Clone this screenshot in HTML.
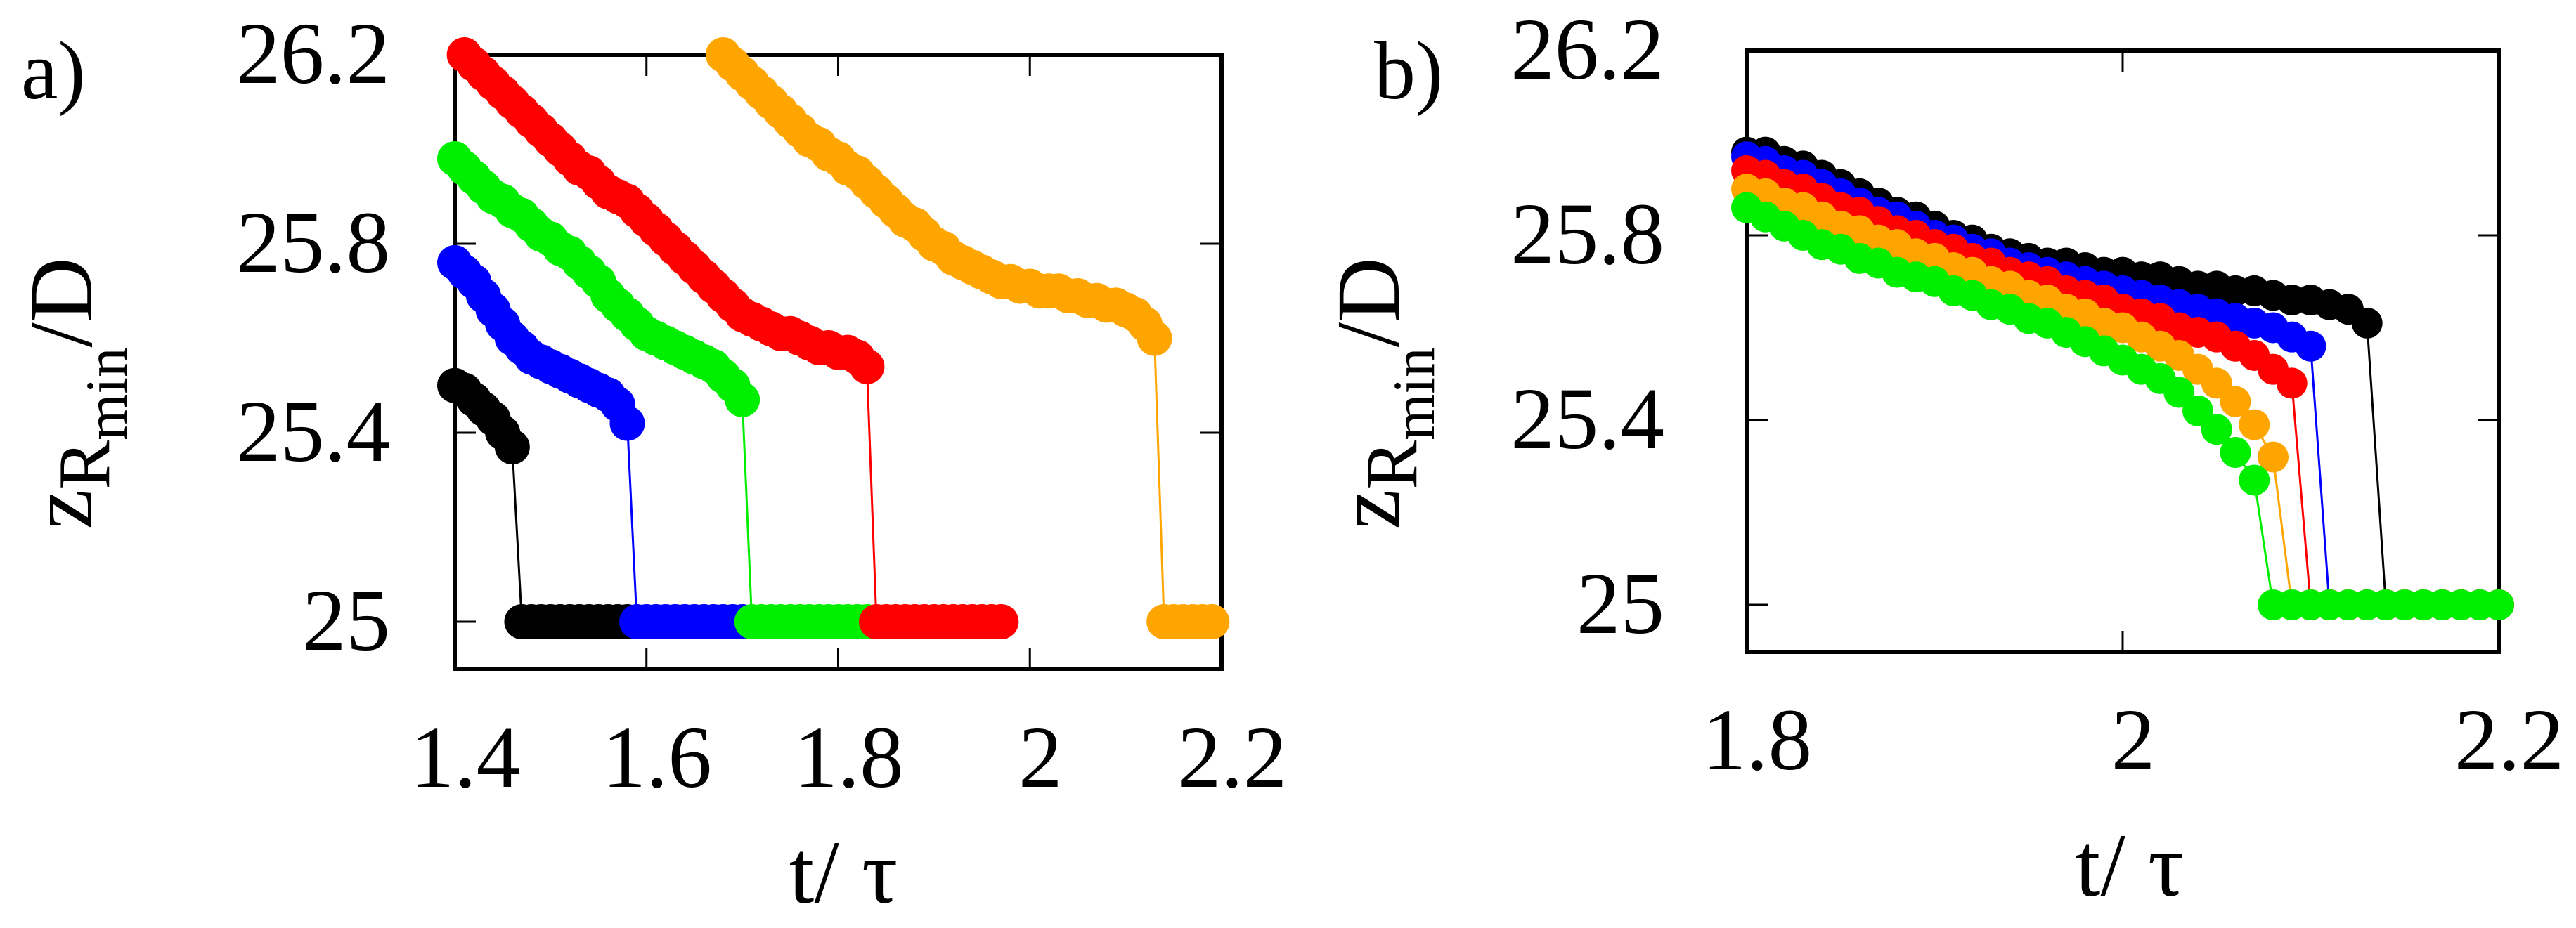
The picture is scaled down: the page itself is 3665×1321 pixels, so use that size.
<!DOCTYPE html>
<html><head><meta charset="utf-8"><style>
html,body{margin:0;padding:0;background:#fff;}
svg{display:block;}
svg text{font-family:"Liberation Serif","Times New Roman","DejaVu Serif",serif;}
</style></head><body>
<svg id="fig" width="3665" height="1321" viewBox="0 0 3665 1321" xmlns="http://www.w3.org/2000/svg">
<g id="pa"></g>
<g id="pb"></g>
</svg>
<script>
// ---- Panel a data ----
const aXTicks = [1.4, 1.6, 1.8, 2, 2.2];
const aXTickLabels = ["1.4", "1.6", "1.8", "2", "2.2"];
const aYTicks = [25, 25.4, 25.8, 26.2];
const aYTickLabels = ["25", "25.4", "25.8", "26.2"];
const aNames = ["black", "blue", "green", "red", "orange"];
const aColors = ["#000000", "#0000ff", "#00ee00", "#ff0000", "#ffa500"];
const aStart = [1.40, 1.40, 1.40, 1.41, 1.68];
const aBlack = [25.50,25.49,25.47,25.45,25.43,25.40,25.37,25,25,25,25,25,25,25,25,25,25,25,25];
const aBlue = [25.76,25.74,25.72,25.69,25.66,25.63,25.60,25.58,25.56,25.55,25.54,25.53,25.52,25.51,25.50,25.49,25.48,25.46,25.42,25,25,25,25,25,25,25,25,25,25,25,25];
const aGreen = [25.98,25.96,25.94,25.92,25.90,25.89,25.87,25.86,25.84,25.82,25.81,25.79,25.78,25.76,25.74,25.72,25.69,25.67,25.65,25.63,25.61,25.60,25.59,25.58,25.57,25.56,25.55,25.54,25.52,25.50,25.47,25,25,25,25,25,25,25,25,25,25,25,25,25];
const aRed = [26.20,26.18,26.16,26.14,26.12,26.10,26.08,26.06,26.04,26.02,26.00,25.98,25.96,25.95,25.93,25.91,25.90,25.89,25.87,25.85,25.83,25.81,25.79,25.77,25.75,25.73,25.71,25.69,25.67,25.65,25.64,25.63,25.62,25.61,25.61,25.60,25.59,25.58,25.58,25.57,25.57,25.56,25.54,25,25,25,25,25,25,25,25,25,25,25,25,25,25];
const aOrange = [26.20,26.18,26.16,26.14,26.12,26.10,26.08,26.06,26.04,26.02,26.01,25.99,25.98,25.96,25.95,25.93,25.91,25.89,25.87,25.85,25.84,25.82,25.80,25.79,25.77,25.76,25.75,25.74,25.73,25.72,25.72,25.71,25.71,25.70,25.70,25.70,25.69,25.69,25.68,25.68,25.67,25.67,25.66,25.65,25.63,25.60,25,25,25,25,25,25];
// ---- Panel b data ----
const bXTicks = [1.8, 2, 2.2];
const bXTickLabels = ["1.8", "2", "2.2"];
const bYTicks = [25, 25.4, 25.8, 26.2];
const bYTickLabels = ["25", "25.4", "25.8", "26.2"];
const bNames = ["black", "blue", "red", "orange", "green"];
const bColors = ["#000000", "#0000ff", "#ff0000", "#ffa500", "#00ee00"];
const bStart = [1.80, 1.80, 1.80, 1.80, 1.80];
const bBlack = [25.98,25.98,25.96,25.95,25.93,25.91,25.89,25.87,25.85,25.84,25.82,25.80,25.79,25.77,25.76,25.75,25.74,25.74,25.73,25.72,25.72,25.71,25.71,25.70,25.69,25.69,25.68,25.68,25.67,25.66,25.66,25.65,25.64,25.61,25,25,25,25,25,25,25];
const bBlue = [25.97,25.96,25.94,25.93,25.91,25.89,25.87,25.85,25.84,25.82,25.80,25.79,25.77,25.76,25.74,25.73,25.72,25.71,25.70,25.69,25.68,25.67,25.66,25.65,25.64,25.63,25.62,25.61,25.60,25.58,25.56,25,25,25,25,25,25,25,25,25,25];
const bRed = [25.94,25.93,25.91,25.90,25.88,25.86,25.85,25.83,25.81,25.80,25.78,25.77,25.75,25.74,25.72,25.71,25.70,25.68,25.67,25.66,25.64,25.63,25.62,25.60,25.59,25.58,25.56,25.54,25.51,25.48,25,25,25,25,25,25,25,25,25,25,25];
const bOrange = [25.90,25.89,25.87,25.86,25.84,25.82,25.81,25.79,25.78,25.76,25.75,25.73,25.72,25.70,25.69,25.67,25.66,25.64,25.63,25.61,25.60,25.58,25.56,25.54,25.51,25.48,25.44,25.39,25.32,25,25,25,25,25,25,25,25,25,25,25,25];
const bGreen = [25.86,25.84,25.82,25.80,25.78,25.77,25.75,25.74,25.72,25.71,25.70,25.68,25.67,25.65,25.64,25.62,25.61,25.59,25.57,25.55,25.53,25.51,25.49,25.46,25.42,25.38,25.33,25.27,25,25,25,25,25,25,25,25,25,25,25,25,25];
const STEP = 0.01;

const NS = "http://www.w3.org/2000/svg";
const FONT = "Liberation Serif, Times New Roman, DejaVu Serif, serif";
function mk(tag, attrs, parent) {
  const e = document.createElementNS(NS, tag);
  for (const k in attrs) e.setAttribute(k, attrs[k]);
  if (tag === "text") { e.setAttribute("font-family", FONT); e.style.fontFamily = '"Liberation Serif", "DejaVu Serif", serif'; }
  parent.appendChild(e);
  return e;
}

function drawPanel(g, cfg) {
  const xs = v => cfg.x0 + (v - cfg.xmin) / (cfg.xmax - cfg.xmin) * (cfg.x1 - cfg.x0);
  const ys = v => cfg.yRef0 + (v - 25) / 1.2 * (cfg.yRef1 - cfg.yRef0);
  const box = mk("rect", {x: cfg.x0, y: cfg.top, width: cfg.x1 - cfg.x0, height: cfg.bottom - cfg.top, fill: "none", stroke: "#000", "stroke-width": 6}, g);
  
  
  cfg.xTicks.forEach((v, i) => {
    const x = xs(v);
    const t1 = mk("line", {x1: x, x2: x, y1: cfg.bottom, y2: cfg.bottom - 30, stroke: "#000", "stroke-width": 3}, g);
    
    
    const t2 = mk("line", {x1: x, x2: x, y1: cfg.top, y2: cfg.top + 30, stroke: "#000", "stroke-width": 3}, g);
    
    
    const lb = mk("text", {x: x + 15, y: cfg.xLabelY, "font-size": 125, "text-anchor": "middle"}, g);
    lb.textContent = cfg.xTickLabels[i];
    
    
  });
  cfg.yTicks.forEach((v, i) => {
    const y = ys(v);
    const t1 = mk("line", {x1: cfg.x0, x2: cfg.x0 + 30, y1: y, y2: y, stroke: "#000", "stroke-width": 3}, g);
    
    
    const t2 = mk("line", {x1: cfg.x1, x2: cfg.x1 - 30, y1: y, y2: y, stroke: "#000", "stroke-width": 3}, g);
    
    
    const lb = mk("text", {x: cfg.yLabelX, y: y + 40, "font-size": 125, "text-anchor": "end"}, g);
    lb.textContent = cfg.yTickLabels[i];
    
    
  });
  cfg.series.forEach((vals, si) => {
    const sg = mk("g", {}, g);
    
    
    const pts = vals.map((v, i) => xs(cfg.starts[si] + i * STEP).toFixed(1) + "," + ys(v).toFixed(1)).join(" ");
    const pl = mk("polyline", {points: pts, fill: "none", stroke: cfg.colors[si], "stroke-width": 3}, sg);
    
    
    vals.forEach((v, i) => {
      const c = mk("circle", {cx: xs(cfg.starts[si] + i * STEP), cy: ys(v), r: cfg.r, fill: cfg.colors[si]}, sg);
      
      
    });
  });
  const xt = mk("text", {x: cfg.xTitleX, y: cfg.xTitleY, "font-size": 128, "text-anchor": "middle"}, g);
  xt.textContent = "t/ τ";
  
  
  const yt = mk("text", {x: 0, y: 0, "font-size": 128, "text-anchor": "middle", transform: "translate(" + cfg.yTitleX + ",560) rotate(-90)"}, g);
  yt.innerHTML = 'z<tspan font-size="105" dy="25">R</tspan><tspan font-size="85" dy="25">min</tspan><tspan dy="-50">/D</tspan>';
  
  
  const pl = mk("text", {x: cfg.panelX, y: 140, "font-size": 118}, g);
  pl.textContent = cfg.panelLabel;
  
  
}

drawPanel(document.getElementById("pa"), {
  x0: 647, x1: 1738, top: 78, bottom: 952, xmin: 1.4, xmax: 2.2,
  yRef0: 885, yRef1: 78, r: 25,
  xTicks: aXTicks, xTickLabels: aXTickLabels, yTicks: aYTicks, yTickLabels: aYTickLabels,
  series: [aBlack, aBlue, aGreen, aRed, aOrange], names: aNames, colors: aColors, starts: aStart,
  xLabelY: 1120, yLabelX: 555, xTitleX: 1200, xTitleY: 1285, yTitleX: 130, panelX: 30, panelLabel: "a)"
});
drawPanel(document.getElementById("pb"), {
  x0: 2485, x1: 3555, top: 72, bottom: 928, xmin: 1.8, xmax: 2.2,
  yRef0: 861, yRef1: 72, r: 22,
  xTicks: bXTicks, xTickLabels: bXTickLabels, yTicks: bYTicks, yTickLabels: bYTickLabels,
  series: [bBlack, bBlue, bRed, bOrange, bGreen], names: bNames, colors: bColors, starts: bStart,
  xLabelY: 1095, yLabelX: 2368, xTitleX: 3030, xTitleY: 1275, yTitleX: 1990, panelX: 1955, panelLabel: "b)"
});
</script>
</body></html>
